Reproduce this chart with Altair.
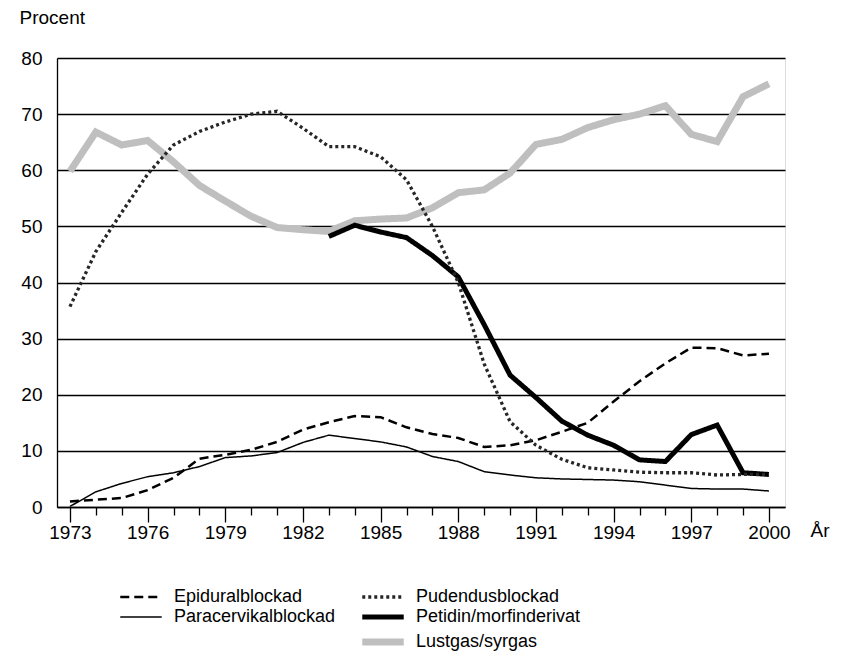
import altair as alt
import pandas as pd

years = list(range(1973, 2001))
epidural = [1.0, 1.3, 1.6, 3.0, 5.2, 8.6, 9.3, 10.2, 11.6, 13.8, 15.1, 16.2, 16.0, 14.2,
            13.0, 12.3, 10.7, 11.0, 11.9, 13.4, 15.0, 18.8, 22.4, 25.6, 28.4, 28.3, 27.0, 27.3]
paracervikal = [0.1, 2.7, 4.2, 5.4, 6.1, 7.2, 8.8, 9.1, 9.7, 11.5, 12.8, 12.2, 11.6, 10.7,
                9.0, 8.1, 6.3, 5.7, 5.2, 5.0, 4.9, 4.8, 4.5, 3.9, 3.3, 3.2, 3.2, 2.85]
pudendus = [35.7, 45.5, 52.5, 59.3, 64.5, 66.9, 68.6, 70.0, 70.5, 67.5, 64.2, 64.2, 62.4, 58.3,
            50.0, 40.0, 25.5, 15.2, 11.0, 8.5, 7.0, 6.6, 6.2, 6.1, 6.1, 5.7, 5.8, 5.8]
lustgas = [59.8, 66.8, 64.5, 65.3, 61.5, 57.3, 54.5, 51.8, 49.8, 49.4, 49.1, 51.0, 51.3, 51.5,
           53.3, 56.0, 56.5, 59.5, 64.6, 65.5, 67.6, 69.0, 70.0, 71.5, 66.4, 65.1, 73.1, 75.4]
petidin_years = list(range(1983, 2001))
petidin = [48.2, 50.2, 49.0, 48.0, 44.8, 41.0, 32.5, 23.5, 19.5, 15.3, 12.8, 11.0, 8.4, 8.1,
           12.9, 14.6, 6.1, 5.8]

# legend is filled column by column: left column first, then right column
series_names = ["Epiduralblockad", "Paracervikalblockad", " ",
                "Pudendusblockad", "Petidin/morfinderivat", "Lustgas/syrgas"]
colors = ["#000000", "#000000", "#ffffff", "#262626", "#000000", "#bfbfbf"]
dashes = [[9, 5], [1, 0], [1, 0], [3, 3], [1, 0], [1, 0]]
widths = [2.5, 1.5, 0, 3.3, 5, 7]

rows = []
for name, yrs, vals in [
    ("Epiduralblockad", years, epidural),
    ("Paracervikalblockad", years, paracervikal),
    ("Pudendusblockad", years, pudendus),
    ("Lustgas/syrgas", years, lustgas),
    ("Petidin/morfinderivat", petidin_years, petidin),
]:
    for y, v in zip(yrs, vals):
        rows.append({"year": y, "value": v, "serie": name})
df = pd.DataFrame(rows)

FONT = "Liberation Sans"

x = alt.X(
    "year:Q",
    scale=alt.Scale(domain=[1972.5, 2000.62], nice=False, zero=False),
    axis=alt.Axis(
        values=years,
        format="d",
        labelExpr="(datum.value - 1973) % 3 == 0 ? datum.label : ''",
        grid=False,
        domainColor="black",
        domainWidth=1.3,
        tickColor="black",
        tickWidth=1.3,
        tickSize={"condition": {"test": "(datum.value - 1973) % 3 == 0", "value": 15}, "value": 8},
        labelPadding=1,
        labelFont=FONT,
        labelFontSize=19,
        labelColor="black",
        title="År",
        titleFont=FONT,
        titleFontSize=19,
        titleFontWeight="normal",
        titleColor="black",
        titleAlign="left",
        titleBaseline="alphabetic",
        titleX=753,
        titleY=29,
    ),
)
y = alt.Y(
    "value:Q",
    scale=alt.Scale(domain=[0, 80], nice=False),
    axis=alt.Axis(
        values=list(range(0, 81, 10)),
        grid=True,
        gridColor="black",
        gridWidth=1.3,
        gridOpacity=1,
        domainColor="black",
        domainWidth=1.3,
        ticks=False,
        labelPadding=15,
        labelFont=FONT,
        labelFontSize=19,
        labelColor="black",
        title="Procent",
        titleFont=FONT,
        titleFontSize=19,
        titleFontWeight="normal",
        titleColor="black",
        titleAngle=0,
        titleAlign="left",
        titleBaseline="alphabetic",
        titleX=-38,
        titleY=-35,
    ),
)
legend = alt.Legend(
    orient="none",
    legendX=75,
    legendY=530,
    columns=2,
    title=None,
    symbolType="M-3.77,0L3.77,0",
    symbolSize=121,
    labelFont=FONT,
    labelFontSize=18,
    labelColor="black",
    labelOffset=24,
    labelLimit=400,
    columnPadding=12,
    rowPadding=1,
    padding=0,
)
color = alt.Color("serie:N", scale=alt.Scale(domain=series_names, range=colors), legend=legend)
dash = alt.StrokeDash("serie:N", scale=alt.Scale(domain=series_names, range=dashes), legend=legend)
width = alt.StrokeWidth("serie:N", scale=alt.Scale(type="ordinal", domain=series_names, range=widths),
                        legend=legend)

base = alt.Chart(df).mark_line(strokeCap="butt", strokeJoin="miter").encode(
    x=x, y=y, color=color, strokeDash=dash, strokeWidth=width
)

order = ["Lustgas/syrgas", "Petidin/morfinderivat", "Paracervikalblockad",
         "Epiduralblockad", "Pudendusblockad"]
layers = [base.transform_filter(alt.datum.serie == s) for s in order]

chart = alt.layer(*layers).properties(
    width=728,
    height=449,
    autosize=alt.AutoSizeParams(type="none"),
    padding={"left": 49, "top": 50, "right": 58, "bottom": 144},
).configure_view(stroke="black", strokeWidth=1.3).configure(background="white")

chart.save("out.html", embed_options={"renderer": "svg", "actions": False})
